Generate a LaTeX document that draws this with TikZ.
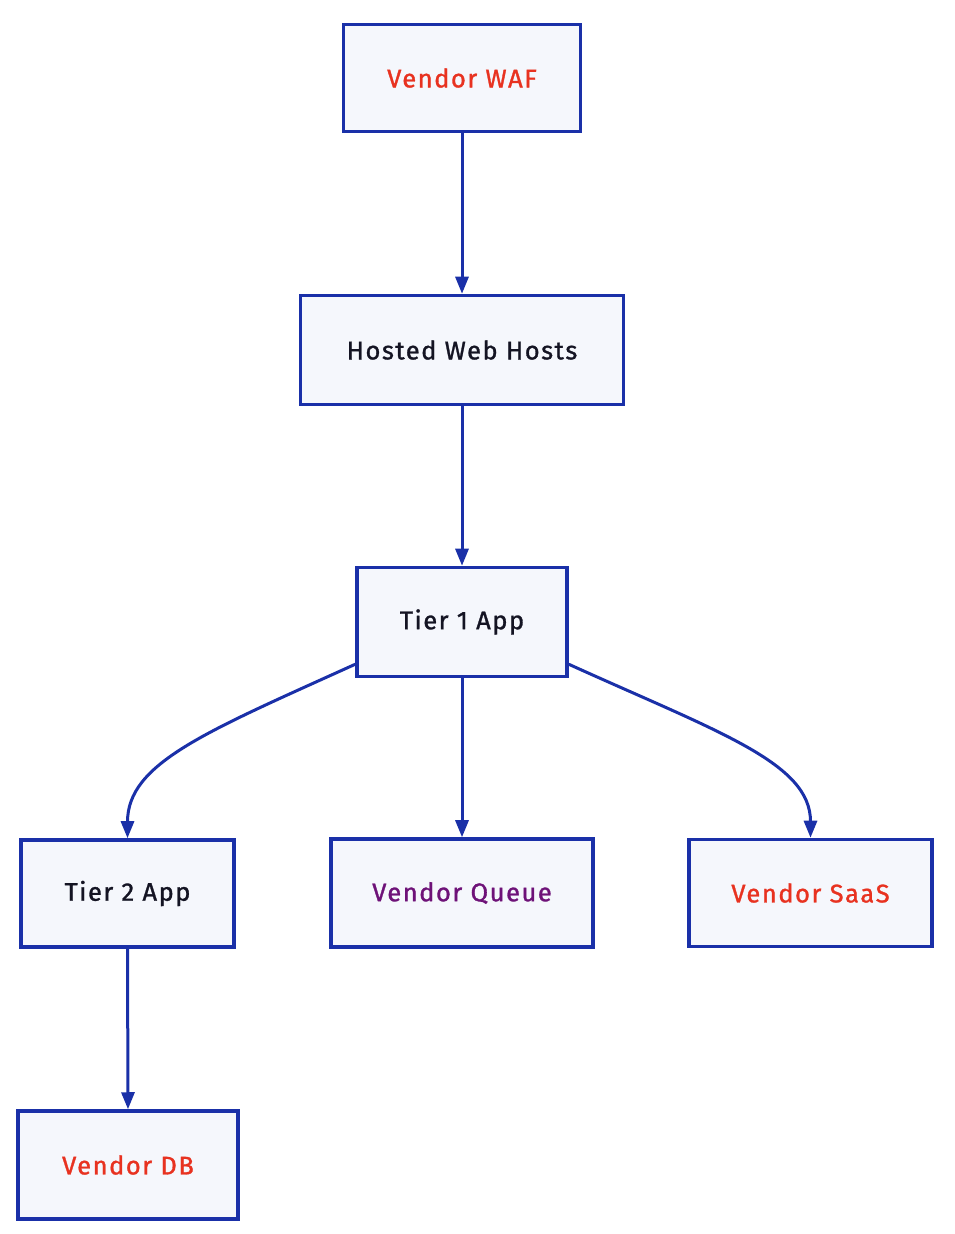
\documentclass[tikz,border=0pt]{standalone}
\usepackage{fontspec}
\setmainfont[LetterSpace=6,FakeBold=1.2]{Fira Sans}
\usetikzlibrary{arrows.meta,calc}
\definecolor{bord}{RGB}{26,48,168}
\definecolor{boxfill}{RGB}{245,247,252}
\definecolor{vred}{RGB}{232,50,32}
\definecolor{vpurple}{RGB}{110,18,120}
\definecolor{vblack}{RGB}{20,20,35}
\tikzset{
  box/.style={draw=bord, fill=boxfill, line width=3.5pt, rectangle, inner sep=0pt,
    font=\fontsize{25.5}{30}\selectfont, text=vblack},
  redtxt/.style={text=vred},
  purptxt/.style={text=vpurple},
  conn/.style={draw=bord, line width=3pt, -{Triangle[width=13pt,length=17pt]}},
}
\begin{document}
\begin{tikzpicture}[x=1pt,y=1pt]
\useasboundingbox (0,0) rectangle (954,1234);
\node[box, redtxt, minimum width=237pt, minimum height=107pt] (waf) at (462,1156) {Vendor WAF};
\node[box, minimum width=323pt, minimum height=109pt] (hosted) at (462,884) {Hosted Web Hosts};
\node[box, minimum width=210pt, minimum height=109pt] (t1) at (462,612) {Tier 1 App};
\node[box, minimum width=213pt, minimum height=107pt] (t2) at (127.5,340.5) {Tier 2 App};
\node[box, purptxt, minimum width=262pt, minimum height=108pt] (queue) at (462,341) {Vendor Queue};
\node[box, redtxt, minimum width=243pt, minimum height=107pt] (saas) at (810.5,341) {Vendor SaaS};
\node[box, redtxt, minimum width=220pt, minimum height=108pt] (db) at (128,69) {Vendor DB};
\coordinate (t1l) at ($(t1.south west)+(0,14)$);
\coordinate (t1r) at ($(t1.south east)+(0,14)$);
\draw[conn] (waf.south) -- (hosted.north);
\draw[conn] (hosted.south) -- (t1.north);
\draw[conn] (t1.south) -- (queue.north);
\draw[conn] (t2.south) -- (db.north);
\draw[conn] (t1l) .. controls +(-150,-68) and +(0,75) .. (t2.north);
\draw[conn] (t1r) .. controls +(150,-68) and +(0,75) .. (saas.north);
\end{tikzpicture}
\end{document}
